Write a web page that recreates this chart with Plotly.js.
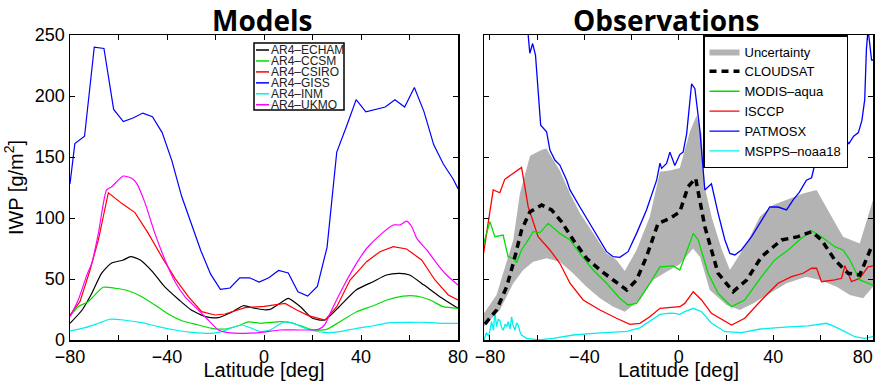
<!DOCTYPE html>
<html><head><meta charset="utf-8">
<script src="https://cdn.plot.ly/plotly-3.0.1.min.js"></script>
<style>html,body{margin:0;padding:0;background:#fff}#c{width:875px;height:381px}</style>
</head><body><div id="c"></div>
<script>
// ---------- Models (left) ----------
const modelNames = ['AR4\u2013ECHAM','AR4\u2013CCSM','AR4\u2013CSIRO','AR4\u2013GISS','AR4\u2013INM','AR4\u2013UKMO'];
const modelColors = ['#000000','#00dd00','#ff0000','#0000ff','#00eeee','#ff00ff'];

const echamLat = [-80,-75,-71,-67,-63,-58,-55,-51,-46,-41,-35,-30,-24,-19,-13,-8.5,-4,0,2.5,6.5,10,15,20,25,31,38,45,50.5,56,60,66,72.5,80];
const echamIWP = [13.7,24.6,38.3,54.6,62.9,65.6,68.3,65.6,56,43.7,32.8,24.6,19.1,18.3,23.2,28.1,26,24.8,25.1,30,34.2,27.3,17.8,16.4,27.3,41,47.8,53.3,54.6,53.3,45,35.5,26];

const ccsmLat = [-80,-76.6,-72.5,-66.3,-61.4,-56,-50.4,-45,-39.5,-33.9,-27.1,-21.6,-16.1,-10.6,-6.5,-1,6.6,10.7,16.2,20.3,25.8,31.3,38.2,45.1,50.6,57.4,63,68.5,73.9,80];
const ccsmIWP = [19.5,27.3,31.4,43.2,42.4,40.4,35.5,28.7,21.3,15.8,12.3,9.6,9,11.7,14.8,13.7,15,14.2,10.9,8.2,8.7,15,23.2,28.1,32.8,36,36,32.8,27.3,26];

const csiroLat = [-80,-75.9,-71.8,-68.3,-64.2,-58.7,-53.2,-47.7,-42.2,-36.7,-31.2,-25.7,-20.2,-16.1,-7.8,0,8.7,13.5,18.3,25.2,30,35.5,42.3,47.8,53.3,58.8,65,70.5,76,80];
const csiroIWP = [20.5,31.4,57,82,120.7,112,104.4,87.4,68.3,50.5,35.5,23.2,20.5,21.3,26.5,27.6,30,24.6,20,16.4,27.3,49.2,64.2,72.4,76.5,74.6,65.6,49.2,36.9,32.8];

const gissLat = [-80,-78,-74,-70,-66,-62,-58,-54,-50,-46,-42,-38,-34,-30,-26,-22,-18,-14,-10,-6,-2,2,6,10,14,18,22,26,30,34,38,42,46,50,54,58,62,66,70,74,78,80];
const gissIWP = [128,161,167,240,239,189,179,182,186,183,170,147,118,95,73,54,41.5,42.6,51,51,47.5,51,57,55,39.6,36,44,76,154,175,197,187,189,191,197,191,207,187,160,144,132,124];

const inmLat = [-80,-73.8,-68.3,-63.5,-58,-50.4,-43.6,-36.7,-29.8,-21.6,-17.4,-13.3,-9.2,-5.1,-1.6,2.5,5.9,8.7,12.1,16.2,20.3,25.8,31.3,38.2,45.1,52,60.2,67.1,73.9,80];
const inmIWP = [7.4,10.1,13.7,17,16.4,14.2,10.9,8.2,6.3,5.5,6.8,10.1,12.3,9.6,7,8.2,12.3,15,13.7,10.1,7.6,6,6.8,9.6,11.7,14.2,14.5,14.5,13.7,13.7];

const ukmoLat = [-80,-76.6,-73.1,-71,-68.3,-64.9,-62.8,-58,-54.6,-52.5,-49,-45,-40.8,-36.7,-32.6,-27.1,-23,-18.8,-14.7,-9.2,-1.6,6.6,14.8,22.4,25,27.9,32.7,38.2,42.3,47.8,53.3,56.1,58.8,60.9,63,67.1,71.2,75.3,80];
const ukmoIWP = [19,32.8,53,63,87.4,123,125.7,134.4,132.5,128.4,112,87.4,65.6,47.8,35.5,24.6,16.4,8.2,6,5.5,6,8.2,8.2,8.7,12.3,24.6,43.7,63,75,86,94.3,94.3,97.5,93,83.3,73.8,62.9,53.3,45];

// ---------- Observations (right) ----------
const uncUpLat = [-82.5,-77.2,-70.1,-67.3,-63,-58,-56,-54.6,-50.4,-46.1,-41.9,-36.3,-30.6,-26.4,-22.9,-17.9,-12.3,-8,-3.8,0.4,4.7,7.5,9.6,11,14,18,21.6,28.7,34.3,39.9,45.6,52.6,58.3,63.9,69.5,76.6,82.2];
const uncUpIWP = [22,36.9,82,120,151,156,157,152,139,120,104,87.4,71,65.6,56.6,73.8,101,138,139,141,171,184,169,125,100,75,57.4,79,101,110.7,114.8,120,123,103.8,84.7,79,114.8];
const uncLoLat = [-82.5,-75.8,-70.1,-65.9,-61.7,-56,-50.4,-44.7,-39.1,-33.4,-27.8,-22.9,-16.5,-10.9,-5.2,0.4,3,6,9,13.1,20.2,25.8,31.4,38.5,45.6,54,59.7,66.8,72.4,78,82.2];
const uncLoIWP = [11,24.6,46.5,57.4,64.2,67,64.2,54.6,43.7,34.2,27.3,23.2,32.8,49.2,56,62,68,75,68,41,28.7,24.6,30,38.3,46.5,51.9,49.2,43.7,36.9,34.2,43.7];

const cloudsatLat = [-82.1,-77.2,-72.9,-70.1,-66.6,-63.1,-58.1,-53.9,-49.7,-44.7,-39.1,-33.4,-27.8,-22.1,-17.9,-13.7,-8.8,-3.8,0.4,3.9,7.1,11,16.6,23,28.7,35,43.5,50.5,56.2,60.4,66,71.7,76.6,81.6];
const cloudsatIWP = [13,24.6,43.7,62.9,90,105,110.7,106.6,97,82,67,57.4,49.2,41,49.2,68.3,95.6,99.7,105,125.7,132.5,92.9,54.7,39.6,49.2,68.3,82,84.7,88.8,82,65.6,54.7,53.3,76.5];

const modisLat = [-82.8,-80,-77.9,-74.4,-72.3,-70.1,-68.7,-66.6,-63.8,-61.7,-58.8,-55.3,-50.4,-46.1,-41.9,-36.3,-30.6,-25,-21.5,-17.9,-12.3,-8,-2.4,0.4,2.5,6.1,8.2,12.4,16.6,22.3,27.9,35,40.6,46.3,51.9,56.2,60.4,66,69.5,72.4,74.5,76.6,82.2];
const modisIWP = [77.9,97,84.7,86,68.3,67,63.4,73.8,82,88.8,88,95.6,87.4,82,71,57.4,46.5,34.2,28.7,30,46.5,60,60.7,57.4,68.3,87.4,82,54.7,38.3,27.3,32.8,51.9,65.6,73.8,83.4,89.6,84.7,76.5,73.8,65.6,57.4,49.2,45];

const isccpLat = [-82.8,-78.6,-75.8,-73.7,-66.6,-63.8,-59.6,-54.6,-50.4,-46.1,-40.5,-33.4,-26.4,-20.7,-16.5,-12.3,-8,0.4,2.5,6.1,9.6,13.8,22.3,27.9,35,42,47.7,52.6,56.2,58.3,60.4,66,68.9,70.3,73.1,76.6,80.1,82.2];
const isccpIWP = [69.7,123,120.7,131.7,141.5,109.3,84.7,73.8,62.9,46.5,32.8,24.6,17.8,12.8,13.7,19.1,26,27.3,30,39.6,32.8,21.9,12.3,17.8,32.8,46.5,51.9,54.7,58.8,58.8,47.8,49.2,50.6,60.9,47.8,50.6,60,60.7];

const patmosLat = [-66,-63.8,-63.1,-61.9,-60.7,-59.5,-58.5,-56,-54.6,-52.5,-50.4,-47.5,-46.1,-41.9,-37.7,-33.4,-30.6,-27.8,-25,-21.5,-17.9,-13.7,-9.4,-8,-7.3,-5.2,-3.8,-1.7,0.4,1.8,3.3,5.4,6.8,8.9,11,13.8,16.6,19.5,21.6,23.7,26.5,30.8,35,38.5,42,45.6,48.4,51,54,56.2,58.3,60.4,62.5,64,66,68,70,72,74,76,77.5,78.7,79.4,80.1,81.6,82.5];
const patmosIWP = [275,250,235,243,233.6,199.4,176,170.7,155.7,147.5,143.4,131,123,109,95.6,82,72.4,68.3,67.8,72.4,87.4,106.6,131,145,140.7,144.8,154,143,152,154,169,210,206,172,123,128,104,82,71,69.7,73.8,84.7,98.4,109,109,106.6,114.8,121,131,133,150,145,155.7,158,163,160,166,161,167,170,180,197,238,255,229.5,229.5];

const msppsLat = [-82.5,-81.5,-80.5,-79.3,-78.5,-77.9,-77.2,-76.5,-75.8,-75,-74.4,-73.5,-72.8,-72.3,-71.5,-70.8,-70.2,-69.4,-68.7,-68,-67.3,-66.6,-64.5,-59.6,-53.2,-44.7,-36.3,-27.8,-22.1,-16.5,-12,-8,-3.8,-1.7,0.4,2.5,6.1,9.6,13.8,19.5,26.5,34.5,44.9,54.7,62.5,66,70.3,74.5,78.7,82.2];
const msppsIWP = [0,6,3,15,8,23,11,17,16,10,8,13,11,15,9,19,12,8,14,12,7,4,1.4,0,1.4,4.1,5.5,6.3,7,10,16,21,22,21.9,21,23.2,26,23.2,14,6.8,6,9,10.5,11.5,13.7,10.9,6.8,2.7,1.4,2.7];

const obsNames = ['Uncertainty','CLOUDSAT','MODIS\u2013aqua','ISCCP','PATMOSX','MSPPS\u2013noaa18'];
const xTickVals = [-80,-40,0,40,80];
const xMinorVals = [-60,-20,20,60];
const xTickTextL = ['\u221280','\u221240','0','40','80'];
const xTickTextR = ['\u221280','\u221240','0','40','80\u00a0\u00a0'];
const yTickVals = [0,50,100,150,200,250];

// ---------- traces ----------
const traces = [];
const modelData = [[echamLat,echamIWP,'spline'],[ccsmLat,ccsmIWP,'spline'],[csiroLat,csiroIWP,'linear'],[gissLat,gissIWP,'linear'],[inmLat,inmIWP,'spline'],[ukmoLat,ukmoIWP,'spline']];
modelData.forEach((d,i)=>{
  traces.push({x:d[0],y:d[1],type:'scatter',mode:'lines',name:modelNames[i],showlegend:false,
    line:{color:modelColors[i],width:1.2,shape:d[2],smoothing:0.6},xaxis:'x',yaxis:'y',hoverinfo:'skip'});
});
traces.push({x:uncUpLat.concat(uncLoLat.slice().reverse()),y:uncUpIWP.concat(uncLoIWP.slice().reverse()),
  type:'scatter',mode:'lines',fill:'toself',fillcolor:'#b3b3b3',line:{width:0,color:'#b3b3b3'},name:obsNames[0],xaxis:'x2',yaxis:'y2',legendrank:1});
traces.push({x:isccpLat,y:isccpIWP,type:'scatter',mode:'lines',name:obsNames[3],line:{color:'#ff0000',width:1.3},xaxis:'x2',yaxis:'y2',legendrank:4});
traces.push({x:modisLat,y:modisIWP,type:'scatter',mode:'lines',name:obsNames[2],line:{color:'#00dd00',width:1.3},xaxis:'x2',yaxis:'y2',legendrank:3});
traces.push({x:patmosLat,y:patmosIWP,type:'scatter',mode:'lines',name:obsNames[4],line:{color:'#0000ff',width:1.3},xaxis:'x2',yaxis:'y2',legendrank:5});
traces.push({x:msppsLat,y:msppsIWP,type:'scatter',mode:'lines',name:obsNames[5],line:{color:'#00eeee',width:1.3},xaxis:'x2',yaxis:'y2',legendrank:6});
traces.push({x:cloudsatLat,y:cloudsatIWP,type:'scatter',mode:'lines',name:obsNames[1],line:{color:'#000000',width:3.5,dash:'7px,5px'},xaxis:'x2',yaxis:'y2',legendrank:2});

// ---------- layout ----------
const W=875,H=381;
const px = v=>v/W, py = v=>(H-v)/H;
const axBase = {ticks:'inside',ticklen:5,tickwidth:1,tickcolor:'black',showline:true,linecolor:'black',linewidth:1.5,mirror:'ticks',
  showgrid:false,zeroline:false,tickfont:{size:18,color:'black'}};
const minorX = {tickvals:xMinorVals,ticks:'inside',ticklen:5,tickwidth:1,tickcolor:'black',showgrid:false};
const shapes = [], annotations = [];
// left custom legend box
shapes.push({type:'rect',xref:'paper',yref:'paper',x0:px(254),x1:px(344),y0:py(110),y1:py(43),line:{color:'black',width:1.5},fillcolor:'white',layer:'above'});
modelNames.forEach((n,i)=>{
  const yy = 50 + i*10.95;
  shapes.push({type:'line',xref:'paper',yref:'paper',x0:px(256),x1:px(269),y0:py(yy),y1:py(yy),line:{color:modelColors[i],width:1.5},layer:'above'});
  annotations.push({xref:'paper',yref:'paper',x:px(269),y:py(yy),xanchor:'left',yanchor:'middle',showarrow:false,text:n,
    font:{size:12,color:'#222'}});
});
annotations.push({xref:'paper',yref:'paper',x:px(262),y:py(20),xanchor:'center',yanchor:'middle',showarrow:false,
  text:'<b>Models</b>',font:{family:'Open Sans, sans-serif',size:28,color:'black'}});
annotations.push({xref:'paper',yref:'paper',x:px(666),y:py(20),xanchor:'center',yanchor:'middle',showarrow:false,
  text:'<b>Observations</b>',font:{family:'Open Sans, sans-serif',size:28,color:'black'}});

const layout = {
  width:W,height:H,margin:{l:0,r:0,t:0,b:0},paper_bgcolor:'white',plot_bgcolor:'white',
  font:{family:'Liberation Sans, Arial, sans-serif',color:'black'},
  showlegend:true,
  xaxis:Object.assign({},axBase,{domain:[px(70),px(458)],range:[-80,80],tickvals:xTickVals,ticktext:xTickTextL,anchor:'y',minor:minorX,
    ticklabeloverflow:'allow',title:{text:'Latitude [deg]',font:{size:20},standoff:1}}),
  yaxis:Object.assign({},axBase,{domain:[py(340),py(35)],range:[0,250],tickvals:yTickVals,anchor:'x',
    title:{text:'IWP [g/m<sup>2</sup>]',font:{size:20},standoff:6}}),
  xaxis2:Object.assign({},axBase,{domain:[px(484),px(873)],range:[-82.5,82.2],tickvals:xTickVals,ticktext:xTickTextR,anchor:'y2',minor:minorX,
    ticklabeloverflow:'allow',title:{text:'Latitude [deg]',font:{size:20},standoff:1}}),
  yaxis2:Object.assign({},axBase,{domain:[py(340),py(35)],range:[0,250],tickvals:yTickVals,showticklabels:false,anchor:'x2'}),
  legend:{x:px(703),y:py(35),xanchor:'left',yanchor:'top',bgcolor:'white',bordercolor:'black',borderwidth:1.5,
    font:{size:13,color:'black'},itemwidth:30,tracegroupgap:0,traceorder:'normal'},
  shapes:shapes,annotations:annotations
};
Plotly.newPlot('c',traces,layout,{staticPlot:true,displayModeBar:false});
</script></body></html>
